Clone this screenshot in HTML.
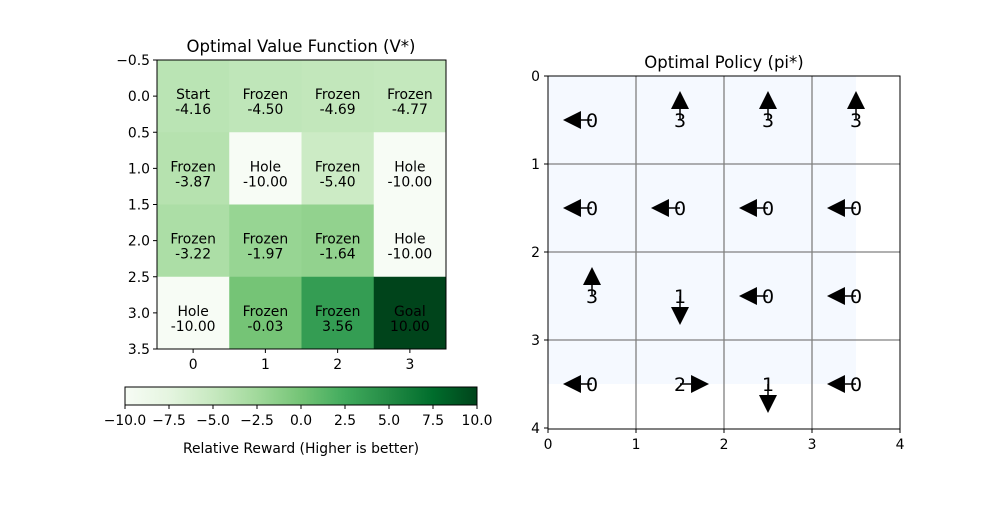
<!DOCTYPE html>
<html><head><meta charset="utf-8"><style>
body{margin:0;background:#fff;}
svg{font-family:"DejaVu Sans","Liberation Sans",sans-serif;}
</style></head><body>
<svg id="c" width="1000" height="500" viewBox="0 0 1000 500" xmlns="http://www.w3.org/2000/svg"></svg>
<script>
const stateLabels=[["Start","Frozen","Frozen","Frozen"],["Frozen","Hole","Frozen","Hole"],["Frozen","Frozen","Frozen","Hole"],["Hole","Frozen","Frozen","Goal"]];
const values=[[-4.16,-4.50,-4.69,-4.77],[-3.87,-10.00,-5.40,-10.00],[-3.22,-1.97,-1.64,-10.00],[-10.00,-0.03,3.56,10.00]];
const policy=[[0,3,3,3],[0,0,0,0],[3,1,0,0],[0,2,1,0]];
const heatTicks=[-0.5,0.0,0.5,1.0,1.5,2.0,2.5,3.0,3.5];
const heatXTicks=[0,1,2,3];
const cbTicks=[-10,-7.5,-5,-2.5,0,2.5,5,7.5,10];
const polTicks=[0,1,2,3,4];
const NS="http://www.w3.org/2000/svg";
const svg=document.getElementById('c');
const FS=13.9;
function el(t,a,p){const e=document.createElementNS(NS,t);for(const k in a)e.setAttribute(k,a[k]);(p||svg).appendChild(e);return e;}
const stops=["#f7fcf5","#e5f5e0","#c7e9c0","#a1d99b","#74c476","#41ab5d","#238b45","#006d2c","#00441b"];
function hex(h){return [1,3,5].map(i=>parseInt(h.substr(i,2),16));}
function greens(t){t=Math.max(0,Math.min(1,t));const f=t*8,i=Math.min(7,Math.floor(f)),r=f-i;const a=hex(stops[i]),b=hex(stops[i+1]);return `rgb(${a.map((v,k)=>Math.round(v+(b[k]-v)*r)).join(',')})`;}
function txt(x,y,s,o){const e=el('text',Object.assign({x:x,y:y,'font-size':FS,fill:'#000','text-anchor':'middle'},o||{}));e.textContent=s;return e;}
// Left heatmap
const L=157,T=60,S=289/4;
const hx=v=>L+(v+0.5)*S, hy=v=>T+(v+0.5)*S;
for(let r=0;r<4;r++)for(let c=0;c<4;c++){
 const cell=el('rect',{x:hx(c-0.5),y:hy(r-0.5),width:S+0.5,height:S+0.5,fill:greens((values[r][c]+10)/20)});
 
 
 const t1=txt(hx(c),hy(r)+3,stateLabels[r][c]);
 
 
 const t2=txt(hx(c),hy(r)+18,values[r][c].toFixed(2));
 
 
}
el('rect',{x:L,y:T,width:289,height:289,fill:'none',stroke:'#000','stroke-width':1});
heatTicks.forEach(v=>{el('line',{x1:L-4,x2:L,y1:hy(v),y2:hy(v),stroke:'#000'});const t=txt(L-7,hy(v)+5,v.toFixed(1).replace('-','\u2212'),{'text-anchor':'end'});});
heatXTicks.forEach(v=>{el('line',{x1:hx(v),x2:hx(v),y1:T+289,y2:T+293,stroke:'#000'});const t=txt(hx(v),T+309,String(v));});
const ht=txt(301,52,'Optimal Value Function (V*)',{'font-size':16.5});
// colorbar
const defs=el('defs',{});const g=el('linearGradient',{id:'gr',x1:0,x2:1,y1:0,y2:0},defs);
stops.forEach((s,i)=>el('stop',{offset:i/8,'stop-color':s},g));
const CL=125,CR=477,CT=387,CB=405;
const cb=el('rect',{x:CL,y:CT,width:CR-CL,height:CB-CT,fill:'url(#gr)',stroke:'#000'});

const cx=v=>CL+(v+10)/20*(CR-CL);
cbTicks.forEach(v=>{el('line',{x1:cx(v),x2:cx(v),y1:CB,y2:CB+4,stroke:'#000'});const t=txt(cx(v),CB+20,v.toFixed(1).replace('-','\u2212'));});
const cbl=txt(301,453,'Relative Reward (Higher is better)');
// Right policy
const PL=548,PT=76,U=88;
const px=v=>PL+v*U, py=v=>PT+v*U;
el('rect',{x:PL,y:PT,width:352,height:353,fill:'#fff'});
const bg=el('rect',{x:px(0),y:py(0),width:3.5*U,height:3.5*U,fill:'#f5f9ff'});

[1,2,3].forEach(v=>{el('line',{x1:px(v),x2:px(v),y1:PT,y2:PT+353,stroke:'#808080','stroke-width':1.3});el('line',{x1:PL,x2:PL+352,y1:py(v),y2:py(v),stroke:'#808080','stroke-width':1.3});});
const dirs={0:[-1,0],1:[0,1],2:[1,0],3:[0,-1]};
for(let r=0;r<4;r++)for(let c=0;c<4;c++){
 const a=policy[r][c],[dx,dy]=dirs[a];const x0=px(c+0.5),y0=py(r+0.5);
 const tipx=x0+dx*0.33*U,tipy=y0+dy*0.33*U,bx=tipx-dx*18,by=tipy-dy*18;
 const grp=el('g',{});
 
 
 el('line',{x1:x0,y1:y0,x2:bx,y2:by,stroke:'#000','stroke-width':1.5},grp);
 const px1=bx+dy*9,py1=by+dx*9,px2=bx-dy*9,py2=by-dx*9;
 el('polygon',{points:`${tipx},${tipy} ${px1},${py1} ${px2},${py2}`,fill:'#000'},grp);
 const t=txt(x0,y0+7,String(a),{'font-size':19});
 
 
}
el('rect',{x:PL,y:PT,width:352,height:353,fill:'none',stroke:'#000'});
polTicks.forEach(v=>{el('line',{x1:px(v),x2:px(v),y1:PT+353,y2:PT+357,stroke:'#000'});const t=txt(px(v),PT+373,String(v));
 el('line',{x1:PL-4,x2:PL,y1:py(v),y2:py(v),stroke:'#000'});const t2=txt(PL-8,py(v)+5,String(v),{'text-anchor':'end'});});
const pt=txt(724,68,'Optimal Policy (pi*)',{'font-size':16.5});
</script>
</body></html>
